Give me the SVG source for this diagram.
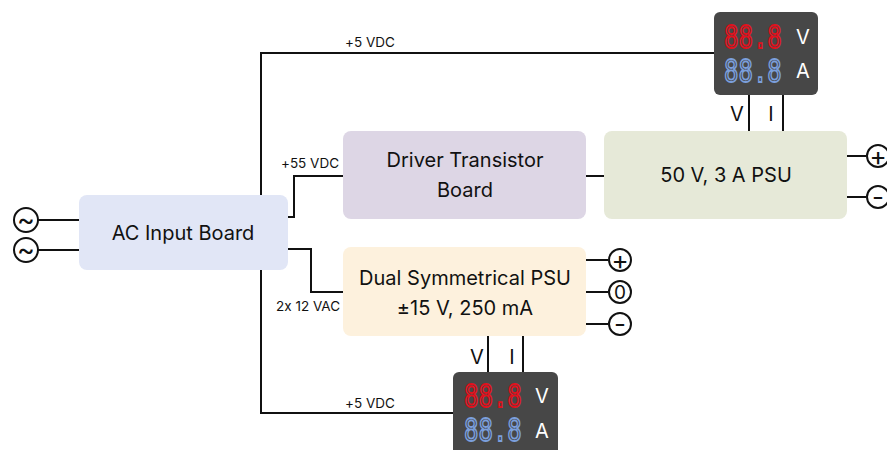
<svg xmlns="http://www.w3.org/2000/svg" width="887" height="450" viewBox="0 0 887 450">
<style>
.t{font-family:Inter,"Noto Sans",sans-serif;fill:#111;text-anchor:middle;font-feature-settings:"calt" 0}
.big{font-size:20px}
.sm{font-size:13.5px}
.w{stroke:#111;stroke-width:2;fill:none}
.term{fill:#fff;stroke:#111;stroke-width:2}
.pm{font-size:26px}
.meter{fill:#474747}
.seg{font-family:"DejaVu Sans Mono",monospace;font-size:24px;fill:none;stroke-width:1.3}
.red{stroke:#e3101c}
.blue{stroke:#7b9fdc}
.mv{font-family:Inter,"Noto Sans",sans-serif;font-size:20px;fill:#fff;text-anchor:middle}
</style>
<rect width="887" height="450" fill="#fff"/>
<g id="connectors">
<path class="w" d="M261 195 V53 H714"/>
<path class="w" d="M261 270 V413 H453"/>
<path class="w" d="M288 217 H294 V176 H343"/>
<path class="w" d="M288 249 H311 V292 H343"/>
<path class="w" d="M586 176 H604"/>
<path class="w" d="M749 95 V131 M783 95 V131"/>
<path class="w" d="M488 336 V372 M523 336 V372"/>
<path class="w" d="M38 220 H79 M38 250 H79"/>
<path class="w" d="M847 156 H866 M847 197 H866"/>
<path class="w" d="M586 260 H608 M586 292 H608 M586 324 H608"/>
<text class="t sm" x="370" y="47">+5 VDC</text>
<text class="t sm" x="310" y="168">+55 VDC</text>
<text class="t sm" x="308" y="311">2x 12 VAC</text>
<text class="t sm" x="370" y="408">+5 VDC</text>
<text class="t big" x="737" y="121">V</text>
<text class="t big" x="771" y="121">I</text>
<text class="t big" x="477" y="364">V</text>
<text class="t big" x="512" y="364">I</text>
</g>
<g id="ac-source-1"><circle class="term" cx="26" cy="220" r="12"/><text class="t" x="26" y="229" font-size="27">~</text></g>
<g id="ac-source-2"><circle class="term" cx="26" cy="250" r="12"/><text class="t" x="26" y="259" font-size="27">~</text></g>
<g id="ac-input-board"><rect x="79" y="195" width="209" height="75" rx="8" fill="#e1e6f6"/><text class="t big" x="183" y="240">AC Input Board</text></g>
<g id="driver-board"><rect x="343" y="131" width="243" height="88" rx="8" fill="#ddd6e5"/><text class="t big" x="465" y="167">Driver Transistor</text><text class="t big" x="465" y="197">Board</text></g>
<g id="psu-50v"><rect x="604" y="131" width="243" height="88" rx="8" fill="#e6e9d8"/><text class="t big" x="726" y="182">50 V, 3 A PSU</text></g>
<g id="dual-psu"><rect x="343" y="247" width="243" height="89" rx="8" fill="#fdf1dd"/><text class="t big" x="465" y="285">Dual Symmetrical PSU</text><text class="t big" x="465" y="315">±15 V, 250 mA</text></g>
<g id="term-50-plus"><circle class="term" cx="878" cy="156" r="11"/><text class="t pm" x="878" y="165">+</text></g>
<g id="term-50-minus"><circle class="term" cx="878" cy="197" r="11"/><text class="t pm" x="878" y="206">-</text></g>
<g id="term-dual-plus"><circle class="term" cx="620" cy="260" r="11"/><text class="t pm" x="620" y="269">+</text></g>
<g id="term-dual-zero"><circle class="term" cx="620" cy="292" r="11"/><text class="t" x="620" y="299" font-size="19">0</text></g>
<g id="term-dual-minus"><circle class="term" cx="620" cy="324" r="11"/><text class="t pm" x="620" y="333">-</text></g>
<g id="meter-top">
<rect class="meter" x="714" y="12" width="104" height="83" rx="6"/>
<text class="seg red" transform="translate(724,48) scale(1,1.35)">88.8</text>
<text class="seg blue" transform="translate(724,82) scale(1,1.35)">88.8</text>
<text class="mv" x="803" y="44">V</text>
<text class="mv" x="803" y="78">A</text>
</g>
<g id="meter-bottom">
<rect class="meter" x="453" y="372" width="105" height="90" rx="6"/>
<text class="seg red" transform="translate(464,407) scale(1,1.35)">88.8</text>
<text class="seg blue" transform="translate(464,441) scale(1,1.35)">88.8</text>
<text class="mv" x="542" y="403">V</text>
<text class="mv" x="542" y="438">A</text>
</g>
</svg>
